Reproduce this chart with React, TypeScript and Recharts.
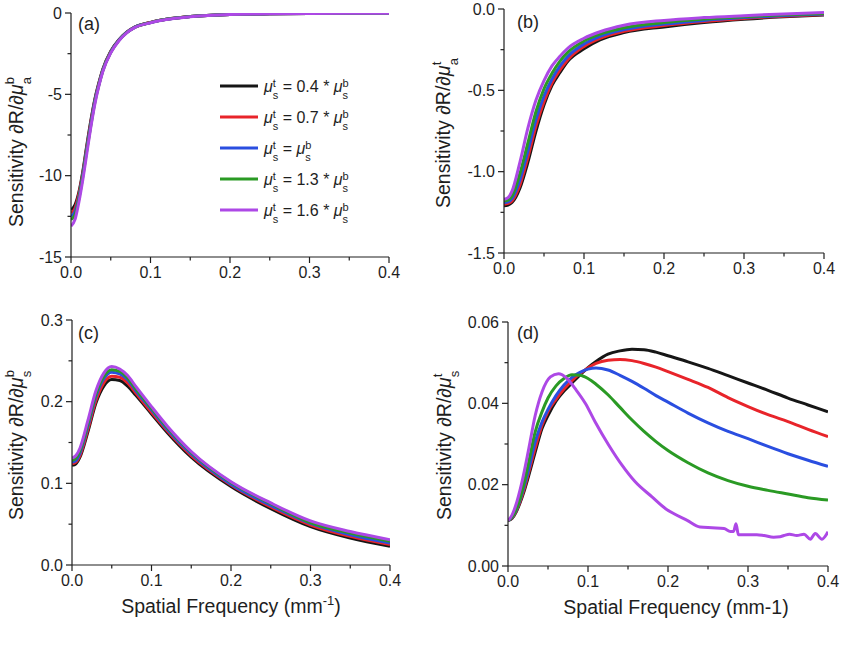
import React from 'react';
import { LineChart, Line, XAxis, YAxis, Legend } from 'recharts';

const FONT = '"Liberation Sans", Arial, Helvetica, sans-serif';
const INK = '#1e1e1e';

// ratio of top-layer to bottom-layer scattering, one entry per curve
const SERIES = [
  { key: 'r04', color: '#161616', factor: '0.4 * ' },
  { key: 'r07', color: '#e8242a', factor: '0.7 * ' },
  { key: 'r10', color: '#2a4ee0', factor: '' },
  { key: 'r13', color: '#2a9a24', factor: '1.3 * ' },
  { key: 'r16', color: '#ad48e6', factor: '1.6 * ' },
];

const freqTicks = [0, 0.05, 0.1, 0.15, 0.2, 0.25, 0.3, 0.35, 0.4];

// (a) dR / d mu_a (bottom)
const freqA = [0, 0.005, 0.01, 0.015, 0.02, 0.025, 0.03, 0.035, 0.04, 0.05, 0.06, 0.07, 0.08, 0.1, 0.12, 0.15, 0.2, 0.25, 0.3, 0.35, 0.4];
const a04 = [-12.1, -11.8, -11.0, -9.7, -8.1, -6.6, -5.3, -4.3, -3.45, -2.35, -1.66, -1.18, -0.87, -0.58, -0.39, -0.22, -0.09, -0.05, -0.03, -0.02, -0.02];
const a07 = [-12.3, -12.0, -11.1, -9.8, -8.2, -6.7, -5.35, -4.35, -3.5, -2.38, -1.68, -1.19, -0.88, -0.58, -0.39, -0.22, -0.09, -0.05, -0.03, -0.02, -0.02];
const a10 = [-12.5, -12.2, -11.3, -9.9, -8.3, -6.8, -5.4, -4.4, -3.52, -2.4, -1.69, -1.2, -0.88, -0.59, -0.39, -0.22, -0.09, -0.05, -0.03, -0.02, -0.02];
const a13 = [-12.7, -12.4, -11.4, -10.0, -8.4, -6.9, -5.5, -4.45, -3.55, -2.42, -1.7, -1.21, -0.89, -0.59, -0.39, -0.22, -0.09, -0.05, -0.03, -0.02, -0.02];
const a16 = [-13.1, -12.7, -11.6, -10.2, -8.6, -7.0, -5.6, -4.5, -3.6, -2.45, -1.72, -1.22, -0.9, -0.6, -0.4, -0.23, -0.09, -0.05, -0.03, -0.02, -0.02];

// (b) dR / d mu_a (top)
const freqB = [0, 0.005, 0.01, 0.02, 0.03, 0.04, 0.05, 0.06, 0.07, 0.08, 0.1, 0.12, 0.15, 0.2, 0.25, 0.3, 0.35, 0.4];
const b04 = [-1.21, -1.205, -1.19, -1.10, -0.94, -0.75, -0.59, -0.47, -0.39, -0.32, -0.245, -0.19, -0.145, -0.11, -0.083, -0.063, -0.048, -0.037];
const b07 = [-1.20, -1.195, -1.18, -1.08, -0.91, -0.72, -0.57, -0.455, -0.375, -0.31, -0.23, -0.18, -0.137, -0.102, -0.077, -0.058, -0.044, -0.034];
const b10 = [-1.19, -1.185, -1.165, -1.05, -0.87, -0.68, -0.535, -0.43, -0.35, -0.29, -0.215, -0.168, -0.127, -0.093, -0.07, -0.053, -0.04, -0.03];
const b13 = [-1.18, -1.175, -1.15, -1.01, -0.82, -0.63, -0.49, -0.395, -0.32, -0.265, -0.197, -0.155, -0.115, -0.083, -0.062, -0.047, -0.035, -0.027];
const b16 = [-1.17, -1.16, -1.12, -0.94, -0.73, -0.56, -0.44, -0.35, -0.29, -0.24, -0.18, -0.14, -0.1, -0.07, -0.053, -0.041, -0.03, -0.022];

// (c) dR / d mu_s (bottom)
const freqC = [0, 0.005, 0.01, 0.02, 0.03, 0.04, 0.05, 0.06, 0.07, 0.08, 0.1, 0.12, 0.15, 0.2, 0.25, 0.3, 0.35, 0.4];
const c04 = [0.122, 0.124, 0.132, 0.163, 0.198, 0.219, 0.227, 0.226, 0.219, 0.208, 0.185, 0.162, 0.132, 0.096, 0.069, 0.047, 0.033, 0.023];
const c07 = [0.124, 0.126, 0.134, 0.166, 0.201, 0.223, 0.231, 0.230, 0.223, 0.211, 0.187, 0.164, 0.134, 0.098, 0.071, 0.049, 0.035, 0.025];
const c10 = [0.126, 0.128, 0.137, 0.170, 0.206, 0.228, 0.236, 0.234, 0.227, 0.214, 0.190, 0.166, 0.136, 0.099, 0.073, 0.051, 0.037, 0.027];
const c13 = [0.128, 0.131, 0.140, 0.173, 0.209, 0.231, 0.239, 0.237, 0.229, 0.216, 0.192, 0.168, 0.138, 0.101, 0.075, 0.052, 0.039, 0.029];
const c16 = [0.131, 0.134, 0.143, 0.177, 0.213, 0.235, 0.243, 0.240, 0.232, 0.219, 0.194, 0.170, 0.139, 0.102, 0.076, 0.054, 0.041, 0.031];

// (d) dR / d mu_s (top)
const freqD = [0, 0.005, 0.01, 0.015, 0.02, 0.026, 0.034, 0.0425, 0.05, 0.06, 0.07, 0.08, 0.09, 0.1, 0.11, 0.125, 0.14, 0.155, 0.17, 0.185, 0.2, 0.225, 0.25, 0.275, 0.3, 0.325, 0.35, 0.375, 0.4];
const d04 = [0.0112, 0.0117, 0.0132, 0.0155, 0.0183, 0.0223, 0.028, 0.0338, 0.037, 0.0405, 0.043, 0.045, 0.047, 0.0488, 0.0503, 0.0521, 0.0529, 0.0533, 0.0532, 0.0526, 0.0517, 0.0502, 0.0486, 0.0468, 0.045, 0.0432, 0.0413, 0.0396, 0.0379];
const d07 = [0.0112, 0.0118, 0.0134, 0.0158, 0.0188, 0.0231, 0.029, 0.0346, 0.038, 0.041, 0.0435, 0.0456, 0.0473, 0.0487, 0.0498, 0.0506, 0.0508, 0.0505, 0.0498, 0.0489, 0.0478, 0.0459, 0.0439, 0.0414, 0.0392, 0.0372, 0.0355, 0.0336, 0.0318];
const d10 = [0.0112, 0.0119, 0.0136, 0.0162, 0.0195, 0.0239, 0.0305, 0.0354, 0.0385, 0.0419, 0.0445, 0.0464, 0.0476, 0.0484, 0.0487, 0.0482, 0.0469, 0.0454, 0.0437, 0.0419, 0.0403, 0.0376, 0.0352, 0.0331, 0.0313, 0.0294, 0.0276, 0.026, 0.0245];
const d13 = [0.0112, 0.012, 0.0138, 0.0165, 0.0203, 0.0256, 0.033, 0.0379, 0.0413, 0.0443, 0.0461, 0.047, 0.0469, 0.0461, 0.0447, 0.0421, 0.039, 0.0359, 0.0331, 0.0306, 0.0284, 0.0254, 0.0229, 0.021, 0.0196, 0.0186, 0.0177, 0.0168, 0.0162];
// the 1.6 curve is noisy at high frequency, so it keeps its own sample points
const freqD16 = [0, 0.005, 0.009, 0.0175, 0.026, 0.034, 0.0425, 0.053, 0.063, 0.074, 0.084, 0.097, 0.109, 0.126, 0.1425, 0.159, 0.18, 0.197, 0.207, 0.224, 0.24, 0.255, 0.27, 0.278, 0.282, 0.285, 0.288, 0.3, 0.311, 0.32, 0.332, 0.34, 0.345, 0.352, 0.361, 0.37, 0.378, 0.384, 0.3925, 0.4];
const d16 = [0.0112, 0.0125, 0.0145, 0.0207, 0.0289, 0.037, 0.0428, 0.0465, 0.0473, 0.0461, 0.0436, 0.0399, 0.0354, 0.0297, 0.0248, 0.0207, 0.017, 0.0141, 0.0129, 0.0112, 0.0096, 0.0094, 0.0092, 0.0085, 0.0085, 0.0104, 0.0077, 0.0077, 0.0077, 0.0075, 0.0071, 0.0072, 0.0075, 0.0078, 0.0075, 0.0078, 0.0066, 0.008, 0.0066, 0.0084];

const toPoints = (xs: number[], ys: number[]) => xs.map((x, i) => ({ x, y: ys[i] }));

const isMajor = (v: number, step: number) => Math.abs(v / step - Math.round(v / step)) < 1e-6;

// tick renderers draw their own tick marks so minor ticks can be shorter
const makeXTick = (step: number, fmt: (v: number) => string) => (props: any) => {
  const { x, y, payload } = props;
  const axisY = y - 8;
  const major = isMajor(payload.value, step);
  return (
    <g>
      <line x1={x} x2={x} y1={axisY} y2={axisY + (major ? 6 : 3.5)} stroke={INK} strokeWidth={1.2} />
      {major && (
        <text x={x} y={axisY + 21} textAnchor="middle" fontSize={16} fill={INK}>
          {fmt(payload.value)}
        </text>
      )}
    </g>
  );
};

const makeYTick = (step: number, fmt: (v: number) => string) => (props: any) => {
  const { x, y, payload } = props;
  const axisX = x + 8;
  const major = isMajor(payload.value, step);
  return (
    <g>
      <line x1={axisX} x2={axisX - (major ? 6 : 3.5)} y1={y} y2={y} stroke={INK} strokeWidth={1.2} />
      {major && (
        <text x={axisX - 9} y={y + 5.7} textAnchor="end" fontSize={16} fill={INK}>
          {fmt(payload.value)}
        </text>
      )}
    </g>
  );
};

const xTick = makeXTick(0.1, (v) => v.toFixed(1));

const YTitle = ({ x, y, sup, sub, supW }: any) => (
  <text transform={`translate(${x},${y}) rotate(-90)`} fontSize={19.5} fill={INK}>
    Sensitivity ∂R/∂<tspan fontStyle="italic">μ</tspan>
    <tspan fontSize={13} dy={-9}>{sup}</tspan>
    <tspan fontSize={13} dx={-supW} dy={17}>{sub}</tspan>
  </text>
);

const LegendBody = () => (
  <svg width={190} height={160} style={{ fontFamily: FONT, overflow: 'visible' }}>
    {SERIES.map((s, i) => {
      const ry = 16 + 31 * i;
      return (
        <g key={s.key}>
          <line x1={10} x2={48} y1={ry} y2={ry} stroke={s.color} strokeWidth={3} />
          <text x={54} y={ry + 5.5} fontSize={16} fill={INK}>
            <tspan fontStyle="italic">μ</tspan>
            <tspan fontSize={11} dy={-5}>t</tspan>
            <tspan fontSize={11} dx={-3.1} dy={12}>s</tspan>
            <tspan dy={-7}>{` = ${s.factor}`}</tspan>
            <tspan fontStyle="italic">μ</tspan>
            <tspan fontSize={11} dy={-5}>b</tspan>
            <tspan fontSize={11} dx={-6.1} dy={12}>s</tspan>
          </text>
        </g>
      );
    })}
  </svg>
);

interface PanelProps {
  left: number;
  top: number;
  width: number;
  height: number;
  margin: { top: number; right: number; bottom: number; left: number };
  curves: { xs: number[]; ys: number[] }[];
  yDomain: [number, number];
  yTicks: number[];
  yStep: number;
  yFmt: (v: number) => string;
  children?: React.ReactNode;
  legend?: boolean;
}

const Panel = ({ left, top, width, height, margin, curves, yDomain, yTicks, yStep, yFmt, children, legend }: PanelProps) => (
  <div style={{ position: 'absolute', left, top, width, height }}>
    <LineChart width={width} height={height} margin={margin}>
      <XAxis
        dataKey="x"
        type="number"
        domain={[0, 0.4]}
        ticks={freqTicks}
        interval={0}
        height={30}
        tickSize={6}
        tickMargin={2}
        tickLine={false}
        tick={xTick}
        axisLine={{ stroke: INK, strokeWidth: 1.2 }}
        allowDataOverflow
      />
      <YAxis
        type="number"
        domain={yDomain}
        ticks={yTicks}
        interval={0}
        width={60}
        tickSize={6}
        tickMargin={2}
        tickLine={false}
        tick={makeYTick(yStep, yFmt)}
        axisLine={{ stroke: INK, strokeWidth: 1.2 }}
        allowDataOverflow
      />
      {curves.map((c, i) => (
        <Line
          key={SERIES[i].key}
          name={SERIES[i].key}
          data={toPoints(c.xs, c.ys)}
          dataKey="y"
          type="monotone"
          stroke={SERIES[i].color}
          strokeWidth={3}
          dot={false}
          activeDot={false}
          isAnimationActive={false}
        />
      ))}
      {legend && (
        <Legend
          layout="vertical"
          align="center"
          verticalAlign="middle"
          wrapperStyle={{ left: 210, top: 70, width: 190, height: 160 }}
          content={LegendBody}
        />
      )}
      {children}
    </LineChart>
  </div>
);

const App = () => (
  <div style={{ position: 'absolute', left: 0, top: 0, width: 841, height: 663, background: '#fff', fontFamily: FONT }}>
    <Panel
      left={0}
      top={0}
      width={420}
      height={320}
      margin={{ top: 13, right: 31, bottom: 33, left: 11 }}
      curves={[a04, a07, a10, a13, a16].map((ys) => ({ xs: freqA, ys }))}
      yDomain={[-15, 0]}
      yTicks={[-15, -12.5, -10, -7.5, -5, -2.5, 0]}
      yStep={5}
      yFmt={(v) => String(v)}
      legend
    >
      <YTitle x={23} y={227} sup="b" sub="a" supW={7.2} />
      <text x={78} y={30} fontSize={18} fill={INK}>(a)</text>
    </Panel>

    <Panel
      left={420}
      top={0}
      width={421}
      height={320}
      margin={{ top: 9, right: 17, bottom: 37, left: 24 }}
      curves={[b04, b07, b10, b13, b16].map((ys) => ({ xs: freqB, ys }))}
      yDomain={[-1.5, 0]}
      yTicks={[-1.5, -1.25, -1, -0.75, -0.5, -0.25, 0]}
      yStep={0.5}
      yFmt={(v) => v.toFixed(1)}
    >
      <YTitle x={30} y={208} sup="t" sub="a" supW={3.6} />
      <text x={97} y={28} fontSize={18} fill={INK}>(b)</text>
    </Panel>

    <Panel
      left={0}
      top={300}
      width={420}
      height={363}
      margin={{ top: 20, right: 30, bottom: 68, left: 12 }}
      curves={[c04, c07, c10, c13, c16].map((ys) => ({ xs: freqC, ys }))}
      yDomain={[0, 0.3]}
      yTicks={[0, 0.05, 0.1, 0.15, 0.2, 0.25, 0.3]}
      yStep={0.1}
      yFmt={(v) => v.toFixed(1)}
    >
      <YTitle x={23} y={220} sup="b" sub="s" supW={7.2} />
      <text x={78} y={39} fontSize={18} fill={INK}>(c)</text>
      <text x={231} y={313} textAnchor="middle" fontSize={19.5} fill={INK}>
        Spatial Frequency (mm<tspan fontSize={13} dy={-8}>-1</tspan>
        <tspan dy={8}>)</tspan>
      </text>
    </Panel>

    <Panel
      left={420}
      top={300}
      width={421}
      height={363}
      margin={{ top: 22, right: 13, bottom: 67, left: 28 }}
      curves={[
        { xs: freqD, ys: d04 },
        { xs: freqD, ys: d07 },
        { xs: freqD, ys: d10 },
        { xs: freqD, ys: d13 },
        { xs: freqD16, ys: d16 },
      ]}
      yDomain={[0, 0.06]}
      yTicks={[0, 0.01, 0.02, 0.03, 0.04, 0.05, 0.06]}
      yStep={0.02}
      yFmt={(v) => v.toFixed(2)}
    >
      <YTitle x={31} y={220} sup="t" sub="s" supW={3.6} />
      <text x={97} y={39} fontSize={18} fill={INK}>(d)</text>
      <text x={256} y={314} textAnchor="middle" fontSize={19.5} fill={INK}>
        Spatial Frequency (mm-1)
      </text>
    </Panel>
  </div>
);

export default App;
